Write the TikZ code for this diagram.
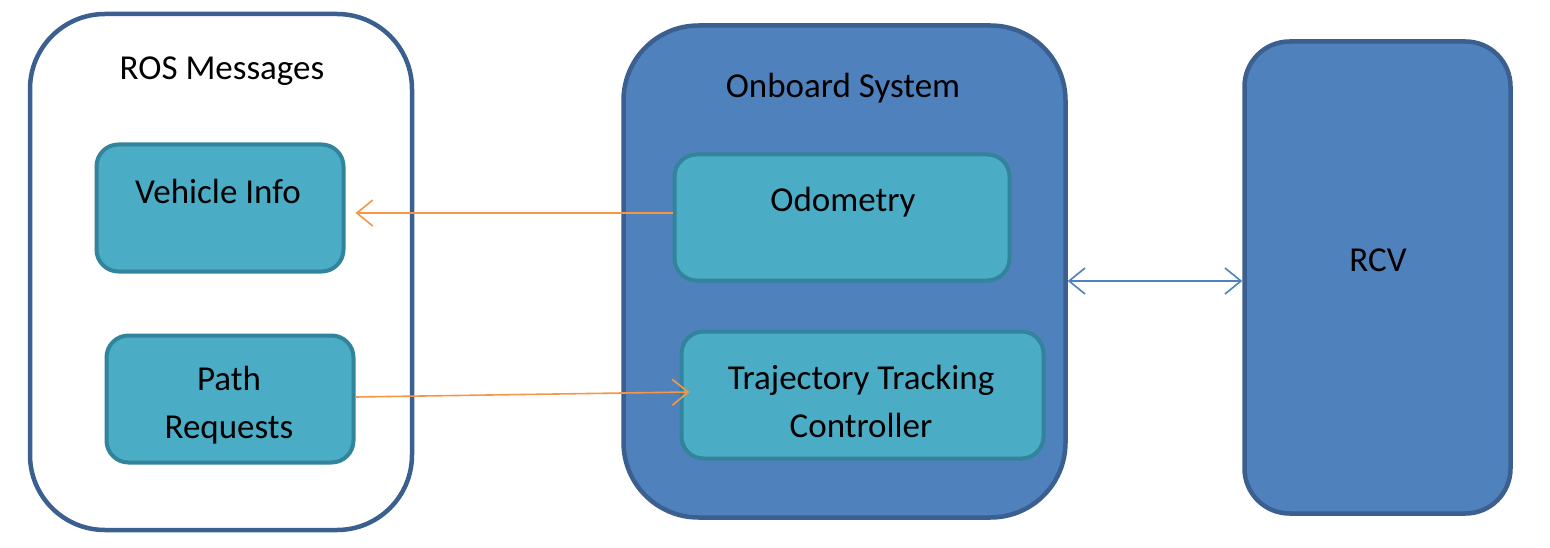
\documentclass[tikz,border=0pt]{standalone}
\usepackage{fontspec}
\setmainfont{Carlito}
\usetikzlibrary{arrows.meta}
\definecolor{frameblue}{HTML}{3B5F8E}
\definecolor{fillblue}{HTML}{4F81BD}
\definecolor{cyanfill}{HTML}{4BACC6}
\definecolor{cyanedge}{HTML}{31849B}
\definecolor{arroworange}{HTML}{F79646}
\begin{document}
\begin{tikzpicture}[x=1pt,y=-1pt,
  container/.style={draw=frameblue,line width=4.5pt,rectangle,inner sep=0pt},
  inner/.style={draw=cyanedge,fill=cyanfill,line width=4pt,rectangle,rounded corners=22pt,inner sep=0pt},
  title/.style={font=\fontsize{35}{48}\selectfont,align=center,inner sep=0pt},
  link/.style={line width=1.6pt,arrows={-{Straight Barb[length=16pt,width=26pt,line width=1.6pt]}}}
]
\useasboundingbox (0,0) rectangle (1550,548);
% containers
\node[container,fill=white,rounded corners=75pt,minimum width=382pt,minimum height=516pt] (ros) at (221,272) {};
\node[container,fill=fillblue,rounded corners=75pt,minimum width=442pt,minimum height=492pt] (obs) at (844.5,271.5) {};
\node[container,fill=fillblue,rounded corners=45pt,minimum width=266pt,minimum height=472pt] (rcv) at (1377.5,277.5) {};
% titles
\node[title] (rostitle) at (222,71) {ROS Messages};
\node[title] (obstitle) at (843,88) {Onboard System};
\node[title] (rcvtext) at (1378,260) {RCV};
% inner boxes
\node[inner,minimum width=247pt,minimum height=127pt] (vi) at (220,208) {};
\node[title] (vitext) at (218,191) {Vehicle Info};
\node[inner,minimum width=247pt,minimum height=127pt] (pr) at (230,399) {};
\node[title] (prtext) at (229,405) {Path\\Requests};
\node[inner,minimum width=335pt,minimum height=126pt] (odo) at (842,217.5) {};
\node[title] (odotext) at (843,202) {Odometry};
\node[inner,minimum width=362pt,minimum height=127pt] (ttc) at (862.5,395) {};
\node[title] (ttctext) at (861,401) {Trajectory Tracking\\Controller};
% connectors
\draw[link,draw=arroworange] ([yshift=4.5pt]odo.west) -- ([xshift=10pt,yshift=4.5pt]odo.west -| vi.east);
\draw[link,draw=arroworange] ([yshift=2pt]pr.east) -- ([xshift=10pt,yshift=3pt]ttc.west);
\draw[link,draw=fillblue,arrows={{Straight Barb[length=16pt,width=26pt,line width=1.6pt]}-{Straight Barb[length=16pt,width=26pt,line width=1.6pt]}}] ([yshift=-9.5pt]obs.east) -- ([yshift=-9.5pt]obs.east -| rcv.west);
\end{tikzpicture}
\end{document}
